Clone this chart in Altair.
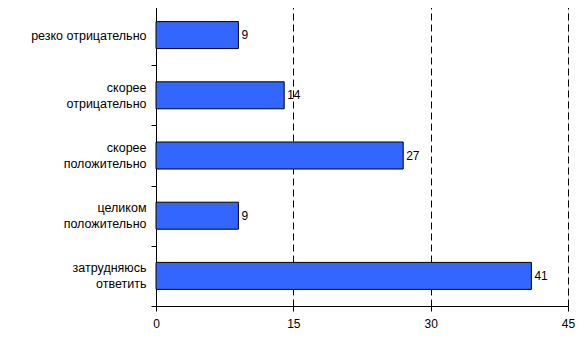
import altair as alt
import pandas as pd

categories = [
    "резко отрицательно",
    "скорее\nотрицательно",
    "скорее\nположительно",
    "целиком\nположительно",
    "затрудняюсь\nответить",
]
values = [9, 14, 27, 9, 41]
x_ticks = [0, 15, 30, 45]

df = pd.DataFrame({"cat": categories, "val": values})

FONT = "Liberation Sans"

y_enc = alt.Y(
    "cat:N",
    sort=categories,
    title=None,
    scale=alt.Scale(paddingInner=0, paddingOuter=0),
    axis=alt.Axis(
        tickBand="extent",
        labelExpr="split(datum.label, '\\n')",
        labelLineHeight=16,
        labelBaseline={
            "condition": {"test": "indexof('' + datum.value, '\\n') >= 0", "value": "line-bottom"},
            "value": "middle",
        },
        labelFont=FONT,
        labelFontSize=12.5,
        labelColor="#000000",
        labelPadding=5,
        tickSize=5,
        tickColor="#000000",
        domainColor="#000000",
        grid=False,
    ),
)

x_enc = alt.X(
    "val:Q",
    title=None,
    scale=alt.Scale(domain=[0, 45], nice=False),
    axis=alt.Axis(
        values=x_ticks,
        labelFlush=False,
        labelFont=FONT,
        labelFontSize=12,
        labelColor="#000000",
        labelPadding=7,
        tickSize=5,
        tickColor="#000000",
        domainColor="#000000",
        grid=True,
        gridColor="#000000",
        gridDash=[7, 4],
        gridOpacity=1,
        gridWidth=1,
    ),
)

bars = alt.Chart(df).mark_bar(
    color="#3366FF", stroke="#000000", strokeWidth=1, size=27
).encode(x=x_enc, y=y_enc)

labels = alt.Chart(df).mark_text(
    align="left", baseline="middle", dx=3, font=FONT, fontSize=12, color="#000000"
).encode(x="val:Q", y=alt.Y("cat:N", sort=categories), text="val:Q")

chart = (
    alt.layer(bars, labels)
    .properties(
        width=412,
        height=301,
        autosize=alt.AutoSizeParams(type="none"),
        padding={"left": 148, "top": -3, "right": 11, "bottom": 40},
    )
    .configure_view(stroke=None)
    .configure(background="#FFFFFF")
)

chart.save("out.html", embed_options={"renderer": "svg", "actions": False})
